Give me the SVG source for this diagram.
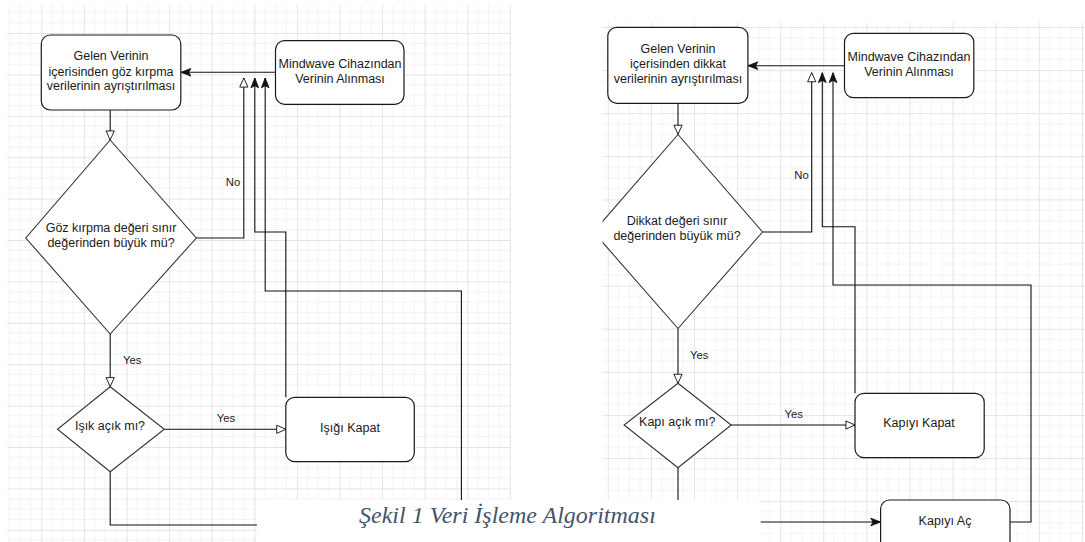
<svg xmlns="http://www.w3.org/2000/svg" width="1085" height="542" viewBox="0 0 1085 542">
<style>
.node{fill:#fff;stroke:#1a1a1a;stroke-width:1.2}
.dia{fill:#fff;stroke:#333;stroke-width:1.1}
.t{font-family:"Liberation Sans",Arial,sans-serif;font-size:12.5px;fill:#1a1a1a;text-anchor:middle}
.lbl{font-family:"Liberation Sans",Arial,sans-serif;font-size:11.3px;fill:#1a1a1a;text-anchor:middle}
.c{fill:none;stroke:#111;stroke-width:1.1}
.mj{stroke:#e4e4e4;stroke-width:1}
.mn{stroke:#f3f3f3;stroke-width:1}
.cap{font-family:"Liberation Serif","Times New Roman",serif;font-style:italic;font-size:24px;fill:#44546A}
</style>
<defs>
<pattern id="gL" patternUnits="userSpaceOnUse" x="41.3" y="33" width="42.6" height="41.4">
<line class="mn" x1="10.65" y1="0" x2="10.65" y2="41.4"/><line class="mn" x1="21.3" y1="0" x2="21.3" y2="41.4"/><line class="mn" x1="31.95" y1="0" x2="31.95" y2="41.4"/>
<line class="mn" x1="0" y1="10.35" x2="42.6" y2="10.35"/><line class="mn" x1="0" y1="20.7" x2="42.6" y2="20.7"/><line class="mn" x1="0" y1="31.05" x2="42.6" y2="31.05"/>
<line class="mj" x1="0.5" y1="0" x2="0.5" y2="41.4"/><line class="mj" x1="0" y1="0.5" x2="42.6" y2="0.5"/>
</pattern>
<pattern id="gR" patternUnits="userSpaceOnUse" x="607.8" y="27" width="43.1" height="43.1">
<line class="mn" x1="10.8" y1="0" x2="10.8" y2="43.1"/><line class="mn" x1="21.55" y1="0" x2="21.55" y2="43.1"/><line class="mn" x1="32.3" y1="0" x2="32.3" y2="43.1"/>
<line class="mn" x1="0" y1="10.8" x2="43.1" y2="10.8"/><line class="mn" x1="0" y1="21.55" x2="43.1" y2="21.55"/><line class="mn" x1="0" y1="32.3" x2="43.1" y2="32.3"/>
<line class="mj" x1="0.5" y1="0" x2="0.5" y2="43.1"/><line class="mj" x1="0" y1="0.5" x2="43.1" y2="0.5"/>
</pattern>
<clipPath id="clipR"><rect x="602.6" y="0" width="483" height="542"/></clipPath>
<marker id="open" markerUnits="userSpaceOnUse" markerWidth="12" markerHeight="10" refX="10" refY="4.5" orient="auto" viewBox="-1 -1 12 11">
<path d="M0,0 L10,4.5 L0,9 Z" fill="#fff" stroke="#111" stroke-width="1"/>
</marker>
<marker id="fill" markerUnits="userSpaceOnUse" markerWidth="12" markerHeight="10" refX="9" refY="3.5" orient="auto" viewBox="-1 -1 11 9">
<path d="M0,0 L9,3.5 L0,7 L2,3.5 Z" fill="#111" stroke="#111" stroke-width="0.8"/>
</marker>
</defs>
<rect width="1085" height="542" fill="#fff"/>
<rect x="7" y="5" width="504" height="537" fill="url(#gL)"/>
<rect x="602.6" y="22.6" width="482.4" height="519.4" fill="url(#gR)"/>

<g id="connectors">
<path class="c" d="M275.5,72.3 H181" marker-end="url(#fill)"/>
<path class="c" d="M110.2,110 V140" marker-end="url(#open)"/>
<path class="c" d="M196.3,238 H243.8 V78" marker-end="url(#open)"/>
<path class="c" d="M285.8,397.3 V232 H254.8 V78" marker-end="url(#fill)"/>
<path class="c" d="M110.2,471.7 V525 H461.4 V291 H265.2 V78" marker-end="url(#fill)"/>
<path class="c" d="M110.2,334 V386.7" marker-end="url(#open)"/>
<path class="c" d="M164.3,429.3 H285.8" marker-end="url(#open)"/>
<path class="c" d="M844.5,65.7 H748" marker-end="url(#fill)"/>
<path class="c" d="M678,103.3 V134.3" marker-end="url(#open)"/>
<path class="c" d="M762.5,232 H811.7 V72.7" marker-end="url(#open)"/>
<path class="c" d="M855,393.3 V226.7 H822.3 V72.7" marker-end="url(#fill)"/>
<path class="c" d="M1010,522 H1031 V285 H833 V72.7" marker-end="url(#fill)"/>
<path class="c" d="M678,328.5 V383.3" marker-end="url(#open)"/>
<path class="c" d="M731.2,425 H855" marker-end="url(#open)"/>
<path class="c" d="M678,467.7 V522 H880.6" marker-end="url(#fill)"/>
</g>

<g id="labels">
<text class="lbl" x="233" y="186">No</text>
<text class="lbl" x="132.2" y="364">Yes</text>
<text class="lbl" x="226" y="422">Yes</text>
<text class="lbl" x="801.5" y="179">No</text>
<text class="lbl" x="699.2" y="359">Yes</text>
<text class="lbl" x="793.7" y="418">Yes</text>
</g>

<g id="L-gelen">
<rect class="node" x="41.3" y="35" width="139.5" height="75" rx="9"/>
<text class="t" x="111" y="60">Gelen Verinin</text>
<text class="t" x="111" y="75.5">içerisinden göz kırpma</text>
<text class="t" x="111" y="90">verilerinin ayrıştırılması</text>
</g>
<g id="L-mindwave">
<rect class="node" x="275.5" y="40.7" width="128.5" height="63.6" rx="9"/>
<text class="t" x="340" y="67.5">Mindwave Cihazından</text>
<text class="t" x="340" y="83">Verinin Alınması</text>
</g>
<g id="L-dec1">
<polygon class="dia" points="110.2,140 196.3,238 110.2,334 25.8,238"/>
<text class="t" x="111" y="232">Göz kırpma değeri sınır</text>
<text class="t" x="111" y="247">değerinden büyük mü?</text>
</g>
<g id="L-dec2">
<polygon class="dia" points="110.2,386.7 164.3,429.3 110.2,471.7 57.5,429.3"/>
<text class="t" x="110" y="430">Işık açık mı?</text>
</g>
<g id="L-kapat">
<rect class="node" x="285.8" y="397.3" width="128.5" height="64.4" rx="9"/>
<text class="t" x="350" y="432">Işığı Kapat</text>
</g>

<g id="R-gelen">
<rect class="node" x="607.8" y="27.3" width="140.1" height="76" rx="9"/>
<text class="t" x="678" y="53">Gelen Verinin</text>
<text class="t" x="678" y="68">içerisinden dikkat</text>
<text class="t" x="678" y="83">verilerinin ayrıştırılması</text>
</g>
<g id="R-mindwave">
<rect class="node" x="844.5" y="33.3" width="129.3" height="64.4" rx="9"/>
<text class="t" x="909" y="61">Mindwave Cihazından</text>
<text class="t" x="909" y="76">Verinin Alınması</text>
</g>
<g id="R-dec1">
<polygon class="dia" clip-path="url(#clipR)" points="678,134.5 762.5,232 678,328.5 593.5,232"/>
<text class="t" x="677" y="225">Dikkat değeri sınır</text>
<text class="t" x="677" y="240">değerinden büyük mü?</text>
</g>
<g id="R-dec2">
<polygon class="dia" points="678,383.3 731.2,425 678,467.7 624.1,425"/>
<text class="t" x="677.3" y="426">Kapı açık mı?</text>
</g>
<g id="R-kapat">
<rect class="node" x="855" y="393.3" width="129.2" height="64.4" rx="9"/>
<text class="t" x="919" y="427">Kapıyı Kapat</text>
</g>
<g id="R-ac">
<rect class="node" x="880.6" y="500" width="129.4" height="64.4" rx="9"/>
<text class="t" x="945" y="525">Kapıyı Aç</text>
</g>

<g id="caption">
<rect x="257" y="500" width="503.7" height="42" fill="#fff"/>
<text class="cap" x="359" y="523">Şekil 1 Veri İşleme Algoritması</text>
</g>
</svg>
